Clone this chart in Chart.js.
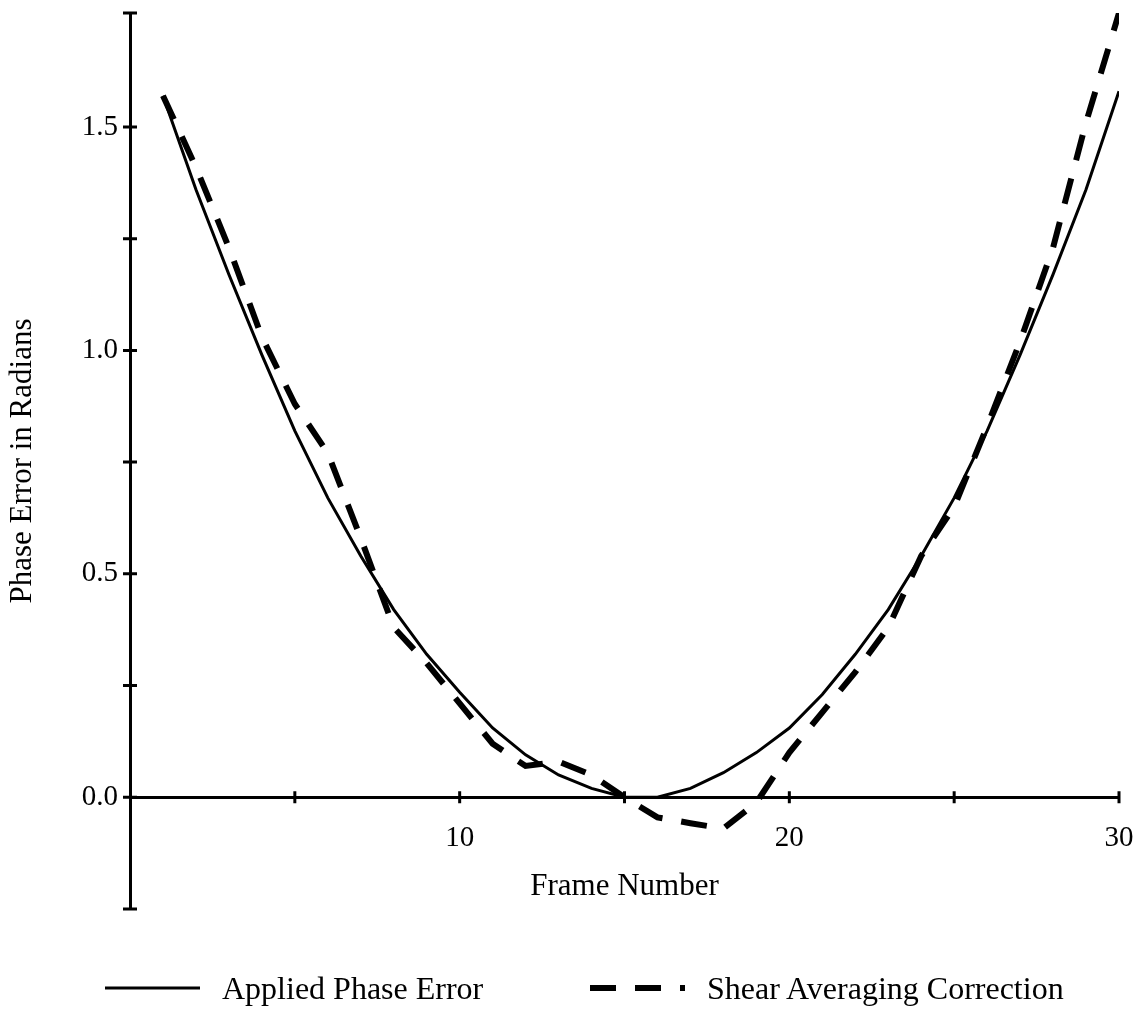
<!DOCTYPE html>
<html>
<head>
<meta charset="utf-8">
<script src="https://cdn.jsdelivr.net/npm/chart.js@4.4.0/dist/chart.umd.min.js"></script>
<style>
  html, body { margin: 0; padding: 0; background: #fff; }
  #wrap { position: relative; width: 1139px; height: 1011px; }
  .legend-item { position: absolute; top: 968px; height: 40px; display: flex; align-items: center;
                 font-family: 'Liberation Serif', serif; font-size: 32px; color: #000; white-space: nowrap; }
  .legend-item svg { margin-right: 22px; }
</style>
</head>
<body>
<div id="wrap">
  <canvas id="phaseChart" width="1139" height="1011"></canvas>
</div>
<script>
// values
const frames = [1, 2, 3, 4, 5, 6, 7, 8, 9, 10, 11, 12, 13, 14, 15,
                16, 17, 18, 19, 20, 21, 22, 23, 24, 25, 26, 27, 28, 29, 30];
const appliedPhaseError = [1.57, 1.36, 1.17, 0.99, 0.82, 0.67, 0.54, 0.42, 0.32, 0.235,
                           0.155, 0.095, 0.05, 0.02, 0.00, 0.00, 0.02, 0.055, 0.10, 0.155,
                           0.23, 0.32, 0.42, 0.54, 0.67, 0.82, 0.99, 1.17, 1.36, 1.58];
const shearAveragingCorrection = [1.57, 1.41, 1.23, 1.03, 0.88, 0.77, 0.58, 0.38, 0.30, 0.21,
                                  0.12, 0.07, 0.08, 0.05, 0.00, -0.045, -0.058, -0.07, -0.012, 0.10,
                                  0.19, 0.28, 0.38, 0.54, 0.65, 0.83, 1.02, 1.23, 1.51, 1.755];
const xTickLabels = [10, 20, 30];
const yTickLabels = [0, 0.5, 1.0, 1.5];
const legendLeft = [105, 590];

const serif = 'Liberation Serif';

function toPoints(xs, ys) {
    return xs.map((x, i) => ({ x: x, y: ys[i] }));
}

// tick marks that cross the axis lines, like the original plot
const crossTicks = {
    id: 'crossTicks',
    afterDraw(chart) {
        const { ctx, scales: { x, y } } = chart;
        const x0 = x.getPixelForValue(0);
        const y0 = y.getPixelForValue(0);
        ctx.save();
        ctx.strokeStyle = '#000';
        ctx.lineWidth = 3;
        ctx.beginPath();
        y.ticks.forEach(t => {
            const py = y.getPixelForValue(t.value);
            ctx.moveTo(x0 - 7, py);
            ctx.lineTo(x0 + 7, py);
        });
        x.ticks.forEach(t => {
            if (t.value === 0) return;
            const px = x.getPixelForValue(t.value);
            ctx.moveTo(px, y0 - 6);
            ctx.lineTo(px, y0 + 6);
        });
        ctx.stroke();
        ctx.restore();
    }
};

const chart = new Chart(document.getElementById('phaseChart'), {
    type: 'line',
    data: {
        datasets: [{
            label: 'Applied Phase Error',
            data: toPoints(frames, appliedPhaseError),
            borderColor: '#000',
            backgroundColor: '#000',
            borderWidth: 3,
            pointRadius: 0,
            tension: 0
        }, {
            label: 'Shear Averaging Correction',
            data: toPoints(frames, shearAveragingCorrection),
            borderColor: '#000',
            backgroundColor: '#000',
            borderWidth: 6,
            borderDash: [26, 19],
            pointRadius: 0,
            tension: 0
        }]
    },
    options: {
        responsive: false,
        animation: false,
        events: [],
        layout: { padding: { top: 13, right: 20, bottom: 102, left: 0 } },
        scales: {
            x: {
                type: 'linear',
                min: 0,
                max: 30,
                position: { y: 0 },
                grid: { drawOnChartArea: false, drawTicks: false },
                border: { display: true, color: '#000', width: 3 },
                ticks: {
                    stepSize: 5,
                    autoSkip: false,
                    maxRotation: 0,
                    padding: 24,
                    color: '#000',
                    font: { family: serif, size: 29 },
                    callback: v => xTickLabels.includes(v) ? String(v) : ''
                },
                title: {
                    display: true,
                    text: 'Frame Number',
                    color: '#000',
                    font: { family: serif, size: 31 },
                    padding: { top: -12, bottom: 0 }
                },
                afterFit: scale => { scale.paddingLeft = 0; scale.paddingRight = 0; }
            },
            y: {
                min: -0.25,
                max: 1.755,
                grid: { drawOnChartArea: false, drawTicks: false },
                border: { display: true, color: '#000', width: 3 },
                ticks: {
                    stepSize: 0.25,
                    padding: 12,
                    color: '#000',
                    font: { family: serif, size: 29 },
                    callback: v => yTickLabels.some(l => Math.abs(l - v) < 1e-6) ? v.toFixed(1) : ''
                },
                title: {
                    display: true,
                    text: 'Phase Error in Radians',
                    color: '#000',
                    font: { family: serif, size: 31 },
                    padding: { top: 4, bottom: 0 }
                },
                afterFit: scale => {
                    scale.width = 130;
                    scale.paddingTop = 0;
                    scale.paddingBottom = 0;
                }
            }
        },
        plugins: {
            tooltip: { enabled: false },
            legend: { display: false }
        }
    },
    plugins: [crossTicks]
});

// legend below the plot, built from the datasets
const wrap = document.getElementById('wrap');
chart.data.datasets.forEach((ds, i) => {
    const item = document.createElement('div');
    item.className = 'legend-item';
    item.style.left = legendLeft[i] + 'px';
    const dash = ds.borderDash ? ds.borderDash.join(' ') : 'none';
    item.innerHTML =
        '<svg width="95" height="10"><line x1="0" y1="5" x2="95" y2="5" stroke="#000" stroke-width="' +
        ds.borderWidth + '" stroke-dasharray="' + dash + '"/></svg><span>' + ds.label + '</span>';
    wrap.appendChild(item);
});
</script>
</body>
</html>
